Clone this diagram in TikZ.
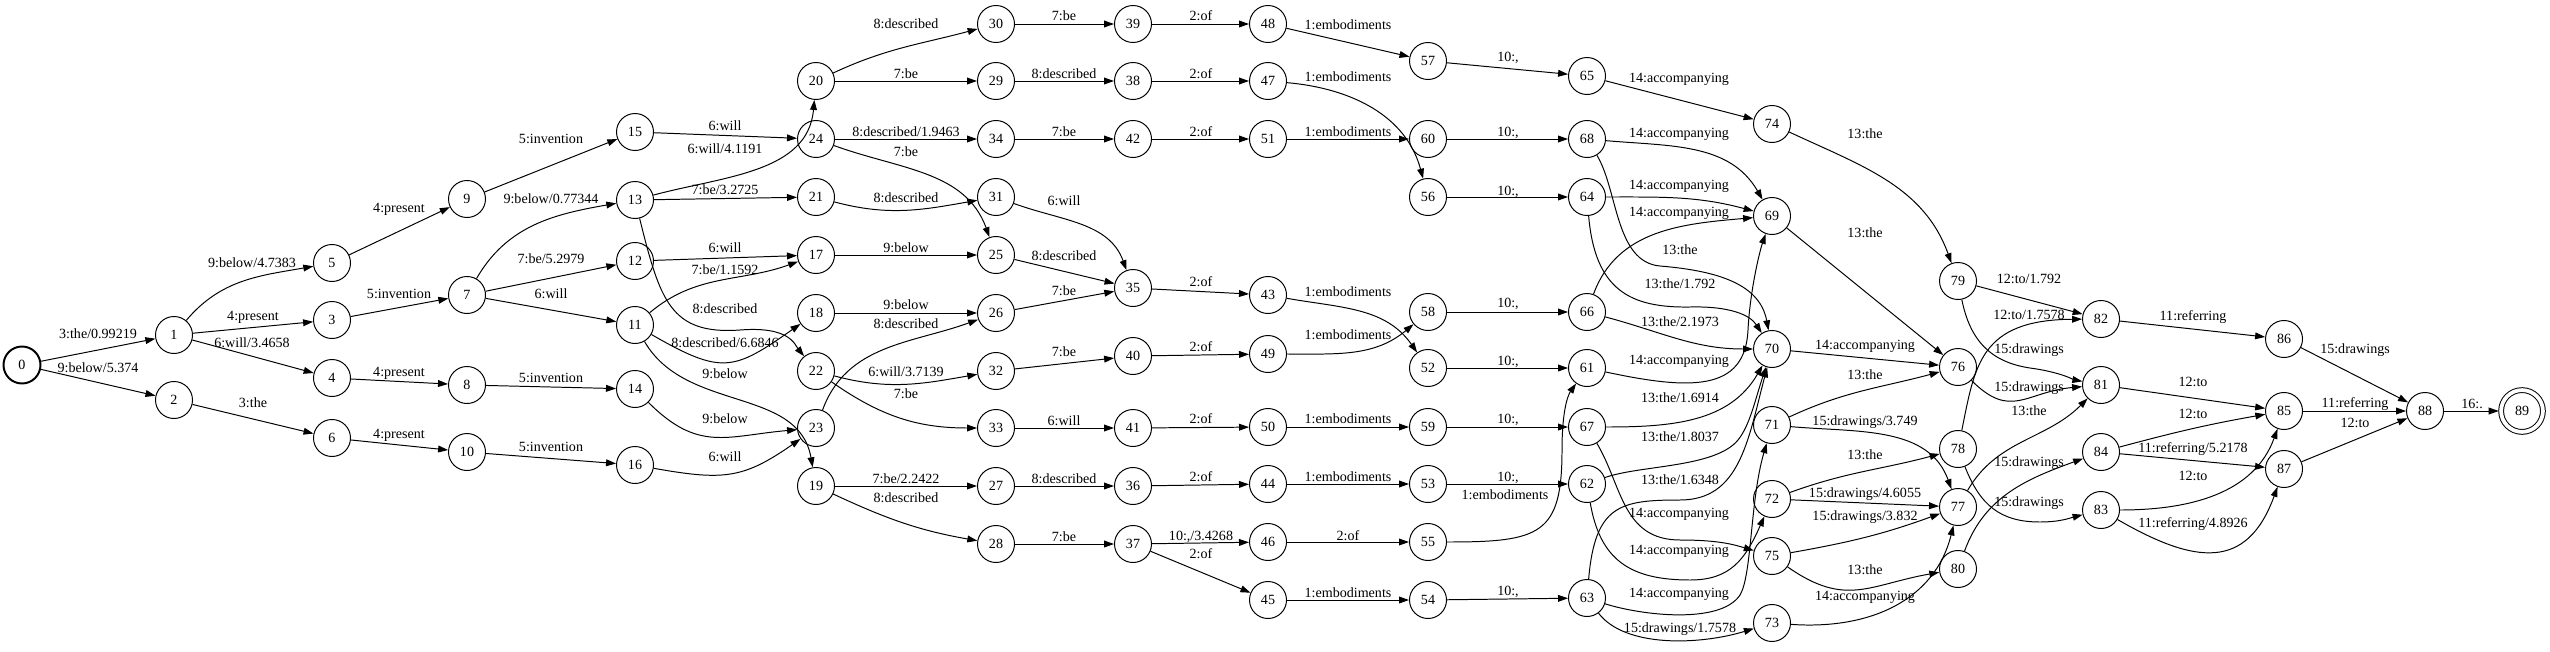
\documentclass[tikz,border=0pt]{standalone}
\usepackage{fontspec}
\setmainfont{Liberation Serif}
\usepackage{tikz}
\usetikzlibrary{arrows.meta}
\tikzstyle{state} = [circle, draw, line width=0.7pt, minimum size=0.925cm, inner sep=0pt, font=\fontsize{10pt}{12pt}\selectfont]
\tikzstyle{startstate} = [state, line width=1.4pt]
\tikzstyle{finalstate} = [state, double, double distance=2.7pt, minimum size=1.045cm, outer sep=1.7pt]
\tikzstyle{trans} = [line width=0.7pt, -{Triangle[length=0.25cm, width=0.17cm]}]
\tikzstyle{lbl} = [inner sep=0pt, text height=6.5pt, text depth=0pt, font=\fontsize{10pt}{12pt}\selectfont]

\begin{document}
\begin{tikzpicture}[x=0.025cm, y=0.025cm]
\useasboundingbox (0,0) rectangle (2550,-651);
% states, column by column
\node[startstate] (n0) at (22,-365) {0};
\node[state] (n1) at (174,-335) {1}; \node[state] (n2) at (174,-400) {2};
\node[state] (n5) at (332,-263) {5}; \node[state] (n3) at (332,-320) {3}; \node[state] (n4) at (332,-378) {4}; \node[state] (n6) at (332,-438) {6};
\node[state] (n9) at (467,-199) {9}; \node[state] (n7) at (467,-295) {7}; \node[state] (n8) at (467,-385) {8}; \node[state] (n10) at (467,-452) {10};
\node[state] (n15) at (635,-132) {15}; \node[state] (n13) at (635,-200) {13}; \node[state] (n12) at (635,-261) {12}; \node[state] (n11) at (635,-325) {11};
\node[state] (n14) at (635,-389) {14}; \node[state] (n16) at (635,-465) {16};
\node[state] (n20) at (816,-81) {20}; \node[state] (n24) at (816,-139) {24}; \node[state] (n21) at (816,-197) {21}; \node[state] (n17) at (816,-255) {17};
\node[state] (n18) at (816,-313) {18}; \node[state] (n22) at (816,-371) {22}; \node[state] (n23) at (816,-428) {23}; \node[state] (n19) at (816,-486) {19};
\node[state] (n30) at (996,-24) {30}; \node[state] (n29) at (996,-81) {29}; \node[state] (n34) at (996,-139) {34}; \node[state] (n31) at (996,-197) {31};
\node[state] (n25) at (996,-255) {25}; \node[state] (n26) at (996,-313) {26}; \node[state] (n32) at (996,-371) {32}; \node[state] (n33) at (996,-428) {33};
\node[state] (n27) at (996,-486) {27}; \node[state] (n28) at (996,-544) {28};
\node[state] (n39) at (1133,-24) {39}; \node[state] (n38) at (1133,-81) {38}; \node[state] (n42) at (1133,-139) {42}; \node[state] (n35) at (1133,-288) {35};
\node[state] (n40) at (1133,-356) {40}; \node[state] (n41) at (1133,-428) {41}; \node[state] (n36) at (1133,-486) {36}; \node[state] (n37) at (1133,-544) {37};
\node[state] (n48) at (1268,-24) {48}; \node[state] (n47) at (1268,-81) {47}; \node[state] (n51) at (1268,-139) {51}; \node[state] (n43) at (1268,-295) {43};
\node[state] (n49) at (1268,-354) {49}; \node[state] (n50) at (1268,-427) {50}; \node[state] (n44) at (1268,-484) {44}; \node[state] (n46) at (1268,-542) {46};
\node[state] (n45) at (1268,-600) {45};
\node[state] (n57) at (1428,-61) {57}; \node[state] (n60) at (1428,-139) {60}; \node[state] (n56) at (1428,-197) {56}; \node[state] (n58) at (1428,-312) {58};
\node[state] (n52) at (1428,-368) {52}; \node[state] (n59) at (1428,-427) {59}; \node[state] (n53) at (1428,-484) {53}; \node[state] (n55) at (1428,-542) {55};
\node[state] (n54) at (1428,-600) {54};
\node[state] (n65) at (1587,-76) {65}; \node[state] (n68) at (1587,-139) {68}; \node[state] (n64) at (1587,-197) {64}; \node[state] (n66) at (1587,-312) {66};
\node[state] (n61) at (1587,-368) {61}; \node[state] (n67) at (1587,-427) {67}; \node[state] (n62) at (1587,-484) {62}; \node[state] (n63) at (1587,-598) {63};
\node[state] (n74) at (1772,-124) {74}; \node[state] (n69) at (1772,-216) {69}; \node[state] (n70) at (1772,-349) {70}; \node[state] (n71) at (1772,-425) {71};
\node[state] (n72) at (1772,-499) {72}; \node[state] (n75) at (1772,-556) {75}; \node[state] (n73) at (1772,-623) {73};
\node[state] (n79) at (1958,-281) {79}; \node[state] (n76) at (1958,-367) {76}; \node[state] (n78) at (1958,-449) {78}; \node[state] (n77) at (1958,-507) {77};
\node[state] (n80) at (1958,-569) {80};
\node[state] (n82) at (2101,-319) {82}; \node[state] (n81) at (2101,-385) {81}; \node[state] (n84) at (2101,-452) {84}; \node[state] (n83) at (2101,-510) {83};
\node[state] (n86) at (2284,-339) {86}; \node[state] (n85) at (2284,-411) {85}; \node[state] (n87) at (2284,-469) {87};
\node[state] (n88) at (2425,-411) {88};
\node[finalstate] (n89) at (2522,-411) {89};

% arcs
\draw[trans] (n0) -- (n1) node[lbl] at (98,-334) {3:the/0.99219};
\draw[trans] (n0) -- (n2) node[lbl] at (98,-368) {9:below/5.374};
\draw[trans] (n1) to[out=50,in=190] (n5) node[lbl] at (252,-263) {9:below/4.7383};
\draw[trans] (n1) -- (n3) node[lbl] at (253,-316) {4:present};
\draw[trans] (n1) -- (n4) node[lbl] at (252,-343) {6:will/3.4658};
\draw[trans] (n2) -- (n6) node[lbl] at (253,-403) {3:the};
\draw[trans] (n5) -- (n9) node[lbl] at (399,-208) {4:present};
\draw[trans] (n3) -- (n7) node[lbl] at (399,-294) {5:invention};
\draw[trans] (n4) -- (n8) node[lbl] at (399,-372) {4:present};
\draw[trans] (n6) -- (n10) node[lbl] at (399,-434) {4:present};
\draw[trans] (n9) -- (n15) node[lbl] at (551,-139) {5:invention};
\draw[trans] (n7) to[out=60,in=190] (n13) node[lbl] at (551,-199) {9:below/0.77344};
\draw[trans] (n7) -- (n12) node[lbl] at (551,-259) {7:be/5.2979};
\draw[trans] (n7) -- (n11) node[lbl] at (551,-294) {6:will};
\draw[trans] (n8) -- (n14) node[lbl] at (551,-378) {5:invention};
\draw[trans] (n10) -- (n16) node[lbl] at (551,-447) {5:invention};
\draw[trans] (n15) -- (n24) node[lbl] at (725,-126) {6:will};
\draw[trans] (n13) to[out=15,in=265] (n20) node[lbl] at (725,-149) {6:will/4.1191};
\draw[trans] (n13) -- (n21) node[lbl] at (725,-190) {7:be/3.2725};
\draw[trans] (n13) .. controls (660,-300) and (670,-335) .. (740,-330) .. controls (790,-326) and (795,-345) .. (n22) node[lbl] at (725,-309) {8:described};
\draw[trans] (n12) -- (n17) node[lbl] at (725,-248) {6:will};
\draw[trans] (n11) to[out=40,in=200] (n17) node[lbl] at (725,-270) {7:be/1.1592};
\draw[trans] (n11) to[out=-30,in=215,looseness=1.4] (n18) node[lbl] at (725,-343) {8:described/6.6846};
\draw[trans] (n11) to[out=-60,in=100] (n19) node[lbl] at (725,-374) {9:below};
\draw[trans] (n14) to[out=-45,in=185,looseness=1.2] (n23) node[lbl] at (725,-419) {9:below};
\draw[trans] (n16) to[out=-10,in=215,looseness=1.2] (n23) node[lbl] at (725,-457) {6:will};
\draw[trans] (n20) to[out=25,in=195] (n30) node[lbl] at (906,-24) {8:described};
\draw[trans] (n20) -- (n29) node[lbl] at (906,-74) {7:be};
\draw[trans] (n24) -- (n34) node[lbl] at (906,-132) {8:described/1.9463};
\draw[trans] (n24) to[out=-20,in=110] (n25) node[lbl] at (906,-152) {7:be};
\draw[trans] (n21) to[out=-15,in=190] (n31) node[lbl] at (906,-198) {8:described};
\draw[trans] (n17) -- (n25) node[lbl] at (906,-248) {9:below};
\draw[trans] (n18) -- (n26) node[lbl] at (906,-305) {9:below};
\draw[trans] (n23) to[out=70,in=200] (n26) node[lbl] at (906,-324) {8:described};
\draw[trans] (n22) to[out=-15,in=190] (n32) node[lbl] at (906,-372) {6:will/3.7139};
\draw[trans] (n22) to[out=-35,in=180] (n33) node[lbl] at (906,-394) {7:be};
\draw[trans] (n19) -- (n27) node[lbl] at (906,-479) {7:be/2.2422};
\draw[trans] (n19) to[out=-25,in=170] (n28) node[lbl] at (906,-498) {8:described};
\draw[trans] (n30) -- (n39) node[lbl] at (1064,-16) {7:be};
\draw[trans] (n29) -- (n38) node[lbl] at (1064,-74) {8:described};
\draw[trans] (n34) -- (n42) node[lbl] at (1064,-132) {7:be};
\draw[trans] (n31) to[out=-20,in=110] (n35) node[lbl] at (1064,-201) {6:will};
\draw[trans] (n25) -- (n35) node[lbl] at (1064,-256) {8:described};
\draw[trans] (n26) -- (n35) node[lbl] at (1064,-291) {7:be};
\draw[trans] (n32) -- (n40) node[lbl] at (1064,-352) {7:be};
\draw[trans] (n33) -- (n41) node[lbl] at (1064,-421) {6:will};
\draw[trans] (n27) -- (n36) node[lbl] at (1064,-479) {8:described};
\draw[trans] (n28) -- (n37) node[lbl] at (1064,-537) {7:be};
\draw[trans] (n39) -- (n48) node[lbl] at (1201,-16) {2:of};
\draw[trans] (n38) -- (n47) node[lbl] at (1201,-74) {2:of};
\draw[trans] (n42) -- (n51) node[lbl] at (1201,-132) {2:of};
\draw[trans] (n35) -- (n43) node[lbl] at (1201,-282) {2:of};
\draw[trans] (n40) -- (n49) node[lbl] at (1201,-347) {2:of};
\draw[trans] (n41) -- (n50) node[lbl] at (1201,-419) {2:of};
\draw[trans] (n36) -- (n44) node[lbl] at (1201,-477) {2:of};
\draw[trans] (n37) -- (n46) node[lbl] at (1201,-536) {10:,/3.4268};
\draw[trans] (n37) -- (n45) node[lbl] at (1201,-554) {2:of};
\draw[trans] (n48) -- (n57) node[lbl] at (1348,-25) {1:embodiments};
\draw[trans] (n47) to[out=-5,in=105] (n56) node[lbl] at (1348,-77) {1:embodiments};
\draw[trans] (n51) -- (n60) node[lbl] at (1348,-132) {1:embodiments};
\draw[trans] (n43) to[out=-10,in=125] (n52) node[lbl] at (1348,-292) {1:embodiments};
\draw[trans] (n49) to[out=0,in=220] (n58) node[lbl] at (1348,-335) {1:embodiments};
\draw[trans] (n50) -- (n59) node[lbl] at (1348,-419) {1:embodiments};
\draw[trans] (n44) -- (n53) node[lbl] at (1348,-477) {1:embodiments};
\draw[trans] (n46) -- (n55) node[lbl] at (1348,-536) {2:of};
\draw[trans] (n45) -- (n54) node[lbl] at (1348,-593) {1:embodiments};
\draw[trans] (n57) -- (n65) node[lbl] at (1508,-57) {10:,};
\draw[trans] (n60) -- (n68) node[lbl] at (1508,-132) {10:,};
\draw[trans] (n56) -- (n64) node[lbl] at (1508,-191) {10:,};
\draw[trans] (n58) -- (n66) node[lbl] at (1508,-303) {10:,};
\draw[trans] (n52) -- (n61) node[lbl] at (1508,-361) {10:,};
\draw[trans] (n59) -- (n67) node[lbl] at (1508,-419) {10:,};
\draw[trans] (n53) -- (n62) node[lbl] at (1508,-477) {10:,};
\draw[trans] (n55) .. controls (1540,-542) and (1562,-535) .. (1562,-450) .. controls (1562,-410) and (1568,-395) .. (n61) node[lbl] at (1505,-495) {1:embodiments};
\draw[trans] (n54) -- (n63) node[lbl] at (1508,-591) {10:,};
\draw[trans] (n65) -- (n74) node[lbl] at (1679,-78) {14:accompanying};
\draw[trans] (n68) to[out=-5,in=120] (n69) node[lbl] at (1679,-133) {14:accompanying};
\draw[trans] (n64) to[out=0,in=165] (n69) node[lbl] at (1679,-185) {14:accompanying};
\draw[trans] (n66) to[out=70,in=185] (n69) node[lbl] at (1679,-212) {14:accompanying};
\draw[trans] (n61) .. controls (1690,-390) and (1745,-392) .. (1748,-330) .. controls (1750,-290) and (1760,-250) .. (n69) node[lbl] at (1679,-360) {14:accompanying};
\draw[trans] (n68) .. controls (1618,-190) and (1615,-262) .. (1660,-266) .. controls (1720,-271) and (1760,-285) .. (n70) node[lbl] at (1680,-250) {13:the};
\draw[trans] (n64) .. controls (1595,-290) and (1630,-308) .. (1690,-307) .. controls (1730,-306) and (1750,-315) .. (n70) node[lbl] at (1680,-284) {13:the/1.792};
\draw[trans] (n66) to[out=-15,in=180] (n70) node[lbl] at (1680,-322) {13:the/2.1973};
\draw[trans] (n67) to[out=0,in=240] (n70) node[lbl] at (1680,-398) {13:the/1.6914};
\draw[trans] (n62) .. controls (1640,-465) and (1715,-468) .. (1738,-440) .. controls (1750,-425) and (1755,-400) .. (n70) node[lbl] at (1680,-437) {13:the/1.8037};
\draw[trans] (n63) .. controls (1595,-505) and (1620,-500) .. (1680,-500) .. controls (1740,-500) and (1748,-440) .. (n70) node[lbl] at (1680,-480) {13:the/1.6348};
\draw[trans] (n67) .. controls (1622,-485) and (1622,-540) .. (1680,-540) .. controls (1720,-540) and (1735,-545) .. (n75) node[lbl] at (1679,-513) {14:accompanying};
\draw[trans] (n62) .. controls (1600,-560) and (1630,-580) .. (1690,-580) .. controls (1730,-580) and (1745,-560) .. (n72) node[lbl] at (1679,-550) {14:accompanying};
\draw[trans] (n63) .. controls (1640,-615) and (1720,-625) .. (1740,-595) .. controls (1752,-575) and (1750,-500) .. (n71) node[lbl] at (1679,-593) {14:accompanying};
\draw[trans] (n63) .. controls (1625,-648) and (1700,-645) .. (n73) node[lbl] at (1680,-628) {15:drawings/1.7578};
\draw[trans] (n74) to[out=-25,in=110] (n79) node[lbl] at (1865,-134) {13:the};
\draw[trans] (n69) -- (n76) node[lbl] at (1865,-233) {13:the};
\draw[trans] (n70) -- (n76) node[lbl] at (1865,-345) {14:accompanying};
\draw[trans] (n71) to[out=25,in=195] (n76) node[lbl] at (1865,-375) {13:the};
\draw[trans] (n71) to[out=-5,in=110] (n77) node[lbl] at (1865,-421) {15:drawings/3.749};
\draw[trans] (n72) to[out=20,in=195] (n78) node[lbl] at (1865,-455) {13:the};
\draw[trans] (n72) -- (n77) node[lbl] at (1865,-493) {15:drawings/4.6055};
\draw[trans] (n75) to[out=10,in=200] (n77) node[lbl] at (1865,-516) {15:drawings/3.832};
\draw[trans] (n75) to[out=-35,in=190,looseness=1.2] (n80) node[lbl] at (1865,-570) {13:the};
\draw[trans] (n73) .. controls (1870,-630) and (1935,-600) .. (n77) node[lbl] at (1865,-596) {14:accompanying};
\draw[trans] (n79) -- (n82) node[lbl] at (2029,-279) {12:to/1.792};
\draw[trans] (n79) .. controls (1970,-340) and (1990,-362) .. (2030,-368) .. controls (2060,-372) and (2075,-380) .. (n81) node[lbl] at (2029,-349) {15:drawings};
\draw[trans] (n78) .. controls (1975,-365) and (1980,-320) .. (n82) node[lbl] at (2029,-315) {12:to/1.7578};
\draw[trans] (n76) to[out=-45,in=185,looseness=1.3] (n81) node[lbl] at (2029,-387) {15:drawings};
\draw[trans] (n77) to[out=60,in=225] (n81) node[lbl] at (2029,-411) {13:the};
\draw[trans] (n80) to[out=70,in=200] (n84) node[lbl] at (2029,-462) {15:drawings};
\draw[trans] (n78) .. controls (1980,-505) and (2000,-522) .. (2040,-522) .. controls (2060,-522) and (2070,-518) .. (n83) node[lbl] at (2029,-502) {15:drawings};
\draw[trans] (n82) -- (n86) node[lbl] at (2193,-316) {11:referring};
\draw[trans] (n81) -- (n85) node[lbl] at (2193,-382) {12:to};
\draw[trans] (n84) to[out=15,in=190] (n85) node[lbl] at (2193,-414) {12:to};
\draw[trans] (n84) -- (n87) node[lbl] at (2193,-448) {11:referring/5.2178};
\draw[trans] (n83) to[out=0,in=250] (n85) node[lbl] at (2193,-476) {12:to};
\draw[trans] (n83) to[out=-30,in=250,looseness=1.4] (n87) node[lbl] at (2193,-523) {11:referring/4.8926};
\draw[trans] (n86) -- (n88) node[lbl] at (2355,-349) {15:drawings};
\draw[trans] (n85) -- (n88) node[lbl] at (2355,-403) {11:referring};
\draw[trans] (n87) -- (n88) node[lbl] at (2355,-423) {12:to};
\draw[trans] (n88) -- (n89) node[lbl] at (2472,-404) {16:.};
\end{tikzpicture}
\end{document}
